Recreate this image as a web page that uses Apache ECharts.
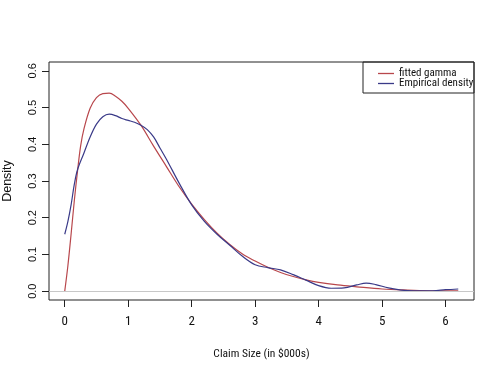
<!DOCTYPE html>
<html>
<head>
<meta charset="utf-8">
<script src="https://cdn.jsdelivr.net/npm/echarts@6/dist/echarts.min.js"></script>
<style>html,body{margin:0;padding:0;background:#fff}#c{width:500px;height:377px}</style>
</head>
<body>
<div id="c"></div>
<script>
// ---- data ----
const xTicks = [0, 1, 2, 3, 4, 5, 6];
const yTicks = [0.0, 0.1, 0.2, 0.3, 0.4, 0.5, 0.6];
const seriesNames = ['fitted gamma', 'Empirical density'];

const gammaX = [0, 0.05, 0.1, 0.15, 0.2, 0.25, 0.3, 0.4, 0.5, 0.6, 0.7, 0.8, 0.9, 1.0, 1.2, 1.4, 1.6, 1.8, 2.0, 2.2, 2.4, 2.6, 2.8, 3.0, 3.2, 3.4, 3.6, 3.8, 4.0, 4.3, 4.6, 5.0, 5.4, 5.8, 6.2];
const gammaY = [0, 0.07, 0.155, 0.245, 0.325, 0.395, 0.44, 0.498, 0.527, 0.538, 0.539, 0.531, 0.517, 0.498, 0.452, 0.395, 0.34, 0.285, 0.237, 0.195, 0.158, 0.127, 0.101, 0.082, 0.065, 0.051, 0.040, 0.031, 0.024, 0.017, 0.012, 0.006, 0.003, 0.001, 0.001];

const empX = [0, 0.05, 0.1, 0.15, 0.2, 0.3, 0.4, 0.5, 0.6, 0.7, 0.8, 0.9, 1.0, 1.1, 1.2, 1.3, 1.4, 1.5, 1.6, 1.8, 2.0, 2.2, 2.4, 2.6, 2.8, 3.0, 3.2, 3.4, 3.6, 3.8, 4.0, 4.2, 4.4, 4.6, 4.75, 4.9, 5.1, 5.3, 5.5, 5.8, 6.0, 6.2];
const empY = [0.155, 0.19, 0.235, 0.29, 0.33, 0.375, 0.42, 0.455, 0.475, 0.482, 0.478, 0.47, 0.465, 0.46, 0.452, 0.44, 0.42, 0.39, 0.36, 0.295, 0.235, 0.19, 0.155, 0.125, 0.095, 0.072, 0.064, 0.058, 0.045, 0.03, 0.015, 0.008, 0.009, 0.017, 0.022, 0.018, 0.009, 0.003, 0.001, 0.001, 0.004, 0.006];

const pair = (xs, ys) => xs.map((x, i) => [x, ys[i]]);

const RED = '#b8474c', BLUE = '#3a3a88';
const NARROW = "'Roboto Condensed','Liberation Sans',sans-serif";
const REG = "'Liberation Sans',Arial,sans-serif";

// plot box (R style, 4% extension of the data range)
const xr = [0 - 0.248, 6.2 + 0.248];
const yr = [-0.024, 0.624];
const L = 49, R = 474, T = 62, B = 300;

const chart = echarts.init(document.getElementById('c'), null, {renderer: 'canvas'});
chart.setOption({
  animation: false,
  backgroundColor: '#fff',
  grid: [
    {left: L, right: 500 - R, top: T, bottom: 377 - B, containLabel: false, outerBoundsMode: 'none',
     show: true, borderColor: '#222', borderWidth: 1, backgroundColor: 'transparent'}
  ],
  xAxis: [
    {type: 'value', min: xr[0], max: xr[1], axisLine: {show: false, onZero: false}, splitLine: {show: false},
     axisTick: {show: true, length: 7, customValues: xTicks, lineStyle: {color: '#222'}},
     axisLabel: {show: true, customValues: xTicks, margin: 15, fontFamily: NARROW, fontSize: 13, color: '#111', formatter: v => String(v)},
     name: 'Claim Size (in $000s)', nameLocation: 'middle', nameGap: 48, nameTextStyle: {fontFamily: NARROW, fontSize: 11.5, color: '#111'}}
  ],
  yAxis: [
    {type: 'value', min: yr[0], max: yr[1], axisLine: {show: false, onZero: false}, splitLine: {show: false},
     axisTick: {show: true, length: 7, customValues: yTicks, lineStyle: {color: '#222'}},
     axisLabel: {show: true, customValues: yTicks, margin: 11, rotate: 90, fontFamily: REG, fontSize: 11, color: '#111', formatter: v => Number(v).toFixed(1)},
     name: 'Density', nameLocation: 'middle', nameRotate: 90, nameGap: 35, nameTextStyle: {fontFamily: REG, fontSize: 12.5, color: '#111'}}
  ],
  legend: {
    left: 373, top: 63, orient: 'vertical', itemWidth: 16, itemHeight: 1.3, itemGap: -1, icon: 'rect',
    textStyle: {fontFamily: NARROW, fontSize: 11, color: '#111', padding: [0, 0, 0, 0]},
    data: seriesNames
  },
  graphic: [
    {type: 'rect', shape: {x: 363, y: T, width: R - 363, height: 31}, style: {fill: 'none', stroke: '#222', lineWidth: 1}, z: 10}
  ],
  series: [
    {name: seriesNames[0], type: 'line', data: pair(gammaX, gammaY), showSymbol: false, smooth: 0.35,
     lineStyle: {color: RED, width: 1.2}, itemStyle: {color: RED}, z: 3,
     markLine: {silent: true, symbol: 'none', label: {show: false}, lineStyle: {color: '#c8c8c8', type: 'solid', width: 1.2}, data: [{yAxis: 0}]}},
    {name: seriesNames[1], type: 'line', data: pair(empX, empY), showSymbol: false, smooth: 0.35,
     lineStyle: {color: BLUE, width: 1.2}, itemStyle: {color: BLUE}, z: 4}
  ]
});
</script>
</body>
</html>
